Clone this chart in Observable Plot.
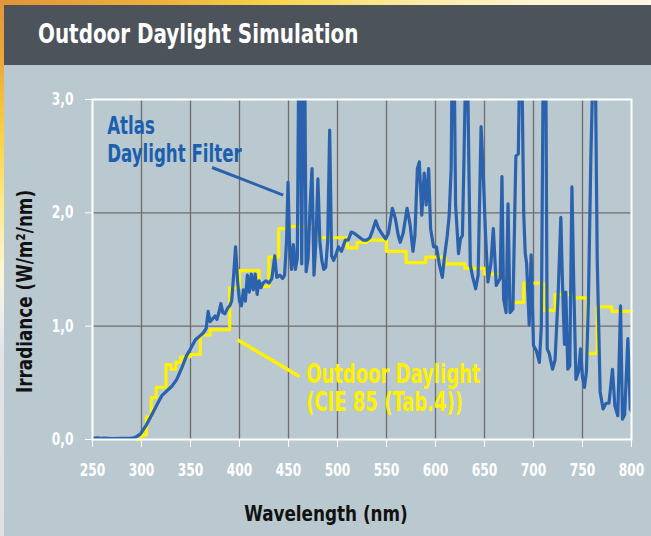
<!DOCTYPE html>
<html><head><meta charset="utf-8">
<script src="https://cdn.jsdelivr.net/npm/d3@7"></script>
<script src="https://cdn.jsdelivr.net/npm/@observablehq/plot@0.6"></script>
<style>
html,body{margin:0;padding:0;background:#fff;}
#wrap{position:relative;width:651px;height:536px;overflow:hidden;background:#bac8cf;}
#topstrip{position:absolute;left:0;top:0;width:651px;height:5px;background:linear-gradient(90deg,#e2953a 0%,#efb03c 25%,#f7d44a 42%,#fbea9c 62%,#fdf3d2 82%,#fdf6e2 100%);}
#leftstrip{position:absolute;left:0;top:0;width:4px;height:536px;background:linear-gradient(180deg,#e2953a 0%,#eeaa3a 12%,#f8cf3e 24%,#fce98a 38%,#fff5d2 50%,#eef0ee 58%,#dfe4e8 66%,#dbe1e5 100%);}
#title{position:absolute;left:4px;top:5px;width:647px;height:60px;background:#4d535b;}
#title span{position:absolute;left:34px;top:15px;line-height:28px;color:#fff;font-weight:bold;font-size:27px;font-family:"DejaVu Sans Condensed","DejaVu Sans",sans-serif;font-stretch:condensed;white-space:nowrap;transform:scaleX(0.82);transform-origin:0 50%;}
#chart{position:absolute;left:0;top:66px;}
</style></head>
<body>
<div id="wrap">
  <div id="topstrip"></div>
  <div id="leftstrip"></div>
  <div id="title"><span>Outdoor Daylight Simulation</span></div>
  <div id="chart"></div>
</div>
<script>
const FONT = '"DejaVu Sans Condensed","DejaVu Sans",sans-serif';

// Axis ticks
const xTicks = [250, 300, 350, 400, 450, 500, 550, 600, 650, 700, 750, 800];
const yTicks = [0, 1, 2, 3];
const gridX = [300, 350, 400, 450, 500, 550, 600, 650, 700, 750];
const gridY = [1, 2];

// Outdoor Daylight (CIE 85, Tab.4) - step start wavelengths and irradiance
const cieWl  = [295, 300, 305, 310, 315, 325, 330, 335, 340, 350, 360, 370, 390, 400, 420, 430, 440, 450, 480, 510, 520, 530, 550, 570, 590, 610, 630, 650, 670, 690, 710, 722, 740, 755, 765, 780, 800];
const cieVal = [0.0, 0.04, 0.2, 0.37, 0.46, 0.66, 0.62, 0.68, 0.73, 0.75, 0.92, 0.97, 1.34, 1.49, 1.35, 1.61, 1.86, 1.88, 1.78, 1.69, 1.74, 1.76, 1.66, 1.56, 1.61, 1.55, 1.51, 1.46, 1.21, 1.38, 1.14, 1.28, 1.25, 0.76, 1.17, 1.13, 1.13];

// Atlas Daylight Filter spectrum
const atlasWl = [
  250, 255, 258, 262, 270, 280, 288, 292, 295, 299,
  305, 310, 316, 321, 326, 331, 336, 341, 346, 350,
  355, 359, 363, 366, 368, 370, 373, 375, 377, 379,
  381, 383, 385, 388, 390, 392, 394, 396, 398, 400,
  402, 404, 406, 408, 410, 412, 414, 416, 418, 420,
  422, 424, 427, 430, 433, 436, 438, 441, 444, 446,
  448, 449.5, 451, 453, 455, 457, 459, 460.5, 462, 463.5,
  465, 466.5, 468, 470, 472, 474, 476, 478, 480, 482,
  484, 486, 488, 490, 492, 494, 496, 498, 501, 504,
  508, 511, 514, 517, 520, 523, 526, 530, 533, 536,
  539, 542, 545, 549, 552, 556, 559, 562, 564, 567,
  571, 574, 577, 579, 581.5, 583.5, 586, 588.5, 590.5, 593,
  595, 598, 601, 604, 607, 609, 612, 614, 616, 617,
  619, 620.5, 623.5, 625.5, 627.5, 629, 631, 632.5, 634, 635.5,
  638, 641, 643.5, 646.5, 648.5, 651, 653.5, 656.5, 659, 662,
  664, 666, 667.8, 669.5, 672, 674, 676, 679, 682, 684.5,
  686, 688, 690, 691.5, 693, 695.6, 697.6, 700, 703, 706,
  708, 710, 712.5, 714, 716, 719.4, 722, 725, 727.9, 729.5,
  731.6, 733, 735, 737, 739.2, 741, 743.3, 746, 748, 750,
  752, 754, 756, 758.5, 761, 763, 765, 768, 771, 774,
  777, 780.6, 783, 786, 788.8, 790.8, 793, 796.3, 798.7, 800
];
const atlasVal = [
  0.01, 0.015, 0.01, 0.012, 0.008, 0.01, 0.01, 0.015, 0.025, 0.05,
  0.13, 0.21, 0.31, 0.39, 0.43, 0.47, 0.53, 0.63, 0.74, 0.80,
  0.88, 0.91, 0.94, 0.98, 1.13, 1.04, 1.07, 1.09, 1.06, 1.12,
  1.20, 1.12, 1.11, 1.16, 1.18, 1.22, 1.45, 1.70, 1.40, 1.22,
  1.18, 1.32, 1.22, 1.45, 1.30, 1.46, 1.32, 1.46, 1.28, 1.40,
  1.34, 1.38, 1.40, 1.38, 1.42, 1.62, 1.43, 1.45, 1.42, 1.45,
  1.75, 2.27, 1.75, 1.50, 1.72, 1.50, 1.60, 3.4, 3.4, 1.55,
  3.4, 3.4, 1.48, 1.60, 2.05, 2.39, 1.45, 1.75, 2.30, 1.75,
  1.58, 1.50, 1.52, 1.75, 2.73, 1.62, 1.58, 1.62, 1.70, 1.66,
  1.76, 1.76, 1.83, 1.82, 1.80, 1.78, 1.76, 1.76, 1.78, 1.85,
  1.93, 1.86, 1.82, 1.77, 1.82, 2.04, 1.95, 1.80, 1.74, 1.82,
  2.04, 1.90, 1.66, 1.80, 2.39, 2.45, 1.98, 2.35, 2.07, 2.39,
  1.86, 1.70, 1.70, 1.54, 1.43, 1.60, 1.80, 1.98, 2.40, 3.4,
  3.4, 2.07, 1.64, 1.77, 1.80, 2.45, 3.4, 3.4, 2.45, 1.54,
  1.43, 1.33, 1.45, 2.76, 2.40, 1.82, 1.39, 1.55, 1.86, 1.36,
  1.39, 1.42, 2.32, 1.24, 1.12, 2.08, 1.12, 1.15, 2.50, 2.52,
  3.4, 3.4, 2.0, 1.65, 1.55, 1.01, 1.63, 0.83, 0.78, 0.68,
  1.00, 3.4, 3.4, 0.80, 0.76, 0.62, 0.70, 1.25, 1.96, 1.40,
  0.84, 1.30, 0.62, 0.65, 2.23, 1.40, 0.53, 0.60, 0.80, 0.55,
  0.46, 0.60, 1.20, 2.48, 3.4, 3.4, 1.60, 0.42, 0.27, 0.32,
  0.32, 0.62, 0.30, 0.21, 1.18, 0.18, 0.22, 0.89, 0.27, 0.25
];

// Annotations (data coordinates)
const atlasLabel = {text: "Atlas\nDaylight Filter", wl: 265, v: 2.45};
const atlasLeader = {x1: 372, y1: 2.40, x2: 444.6, y2: 2.157};
const cieLabel = {text: "Outdoor Daylight\n(CIE 85 (Tab.4))", wl: 468, v: 0.248};
const cieLeader = {x1: 398, y1: 0.88, x2: 461.2, y2: 0.555};
const xLabel = "Wavelength (nm)";
const yLabel = "Irradiance (W/m²/nm)";

const cie = cieWl.map((wl, i) => ({wl, v: cieVal[i]}));
const atlas = atlasWl.map((wl, i) => ({wl, v: atlasVal[i]}));

const BLUE = "#2b62ad";
const YELLOW = "#fff200";

const plot = Plot.plot({
  width: 651, height: 470,
  marginLeft: 92, marginRight: 20, marginTop: 33, marginBottom: 97,
  style: {background: "transparent", color: "white", fontFamily: FONT, fontSize: "17px", fontWeight: "bold", overflow: "visible"},
  x: {domain: [250, 800], ticks: xTicks, tickSize: 8, tickPadding: 16, label: null, tickFormat: d => String(d)},
  y: {domain: [0, 3], ticks: yTicks, tickSize: 7, tickPadding: 12, label: null, tickFormat: d => d.toFixed(1).replace(".", ",")},
  marks: [
    Plot.ruleX(gridX, {stroke: "#6e6e6e", strokeWidth: 1.3}),
    Plot.ruleY(gridY, {stroke: "#6e6e6e", strokeWidth: 1.3}),
    Plot.line(cie, {x: "wl", y: "v", curve: "step-after", stroke: YELLOW, strokeWidth: 3.2}),
    Plot.line(atlas, {x: "wl", y: "v", stroke: BLUE, strokeWidth: 3.2, strokeLinejoin: "round", clip: true}),
    Plot.frame({stroke: "white", strokeWidth: 2}),
    Plot.link([atlasLeader], {x1: "x1", y1: "y1", x2: "x2", y2: "y2", stroke: BLUE, strokeWidth: 3}),
    Plot.link([cieLeader], {x1: "x1", y1: "y1", x2: "x2", y2: "y2", stroke: YELLOW, strokeWidth: 3.5}),
    Plot.text([atlasLabel], {x: "wl", y: "v", text: "text", textAnchor: "start", lineAnchor: "bottom", lineHeight: 1.1, fill: "#1b5fae", fontSize: 25, fontWeight: "bold", fontFamily: FONT}),
    Plot.text([cieLabel], {x: "wl", y: "v", text: "text", textAnchor: "start", lineAnchor: "bottom", lineHeight: 1.08, fill: YELLOW, fontSize: 26, fontWeight: "bold", fontFamily: FONT}),
    Plot.text([xLabel], {text: d => d, frameAnchor: "bottom", dx: -36, dy: 81, lineAnchor: "bottom", textAnchor: "middle", fill: "#111", fontSize: 22, fontWeight: "bold", fontFamily: FONT}),
    Plot.text([yLabel], {text: d => d, frameAnchor: "left", rotate: -90, dx: -68, dy: 22, textAnchor: "middle", fill: "#111", fontSize: 22, fontWeight: "bold", fontFamily: FONT})
  ]
});
document.getElementById("chart").appendChild(plot);

// Mimic the condensed typeface of the original: narrow each text horizontally about its anchor.
const squeezeBySize = {17: 0.8, 25: 0.74, 26: 0.77, 22: 0.85};
plot.querySelectorAll("text").forEach(t => {
  const cs = getComputedStyle(t);
  const s = squeezeBySize[Math.round(parseFloat(cs.fontSize))] || 0.8;
  const bb = t.getBBox();
  const a = cs.textAnchor;
  const ax = a === "end" ? bb.x + bb.width : a === "middle" ? bb.x + bb.width / 2 : bb.x;
  const old = t.getAttribute("transform") || "";
  t.setAttribute("transform", `${old} translate(${ax},0) scale(${s},1) translate(${-ax},0)`);
});
</script>
</body></html>
